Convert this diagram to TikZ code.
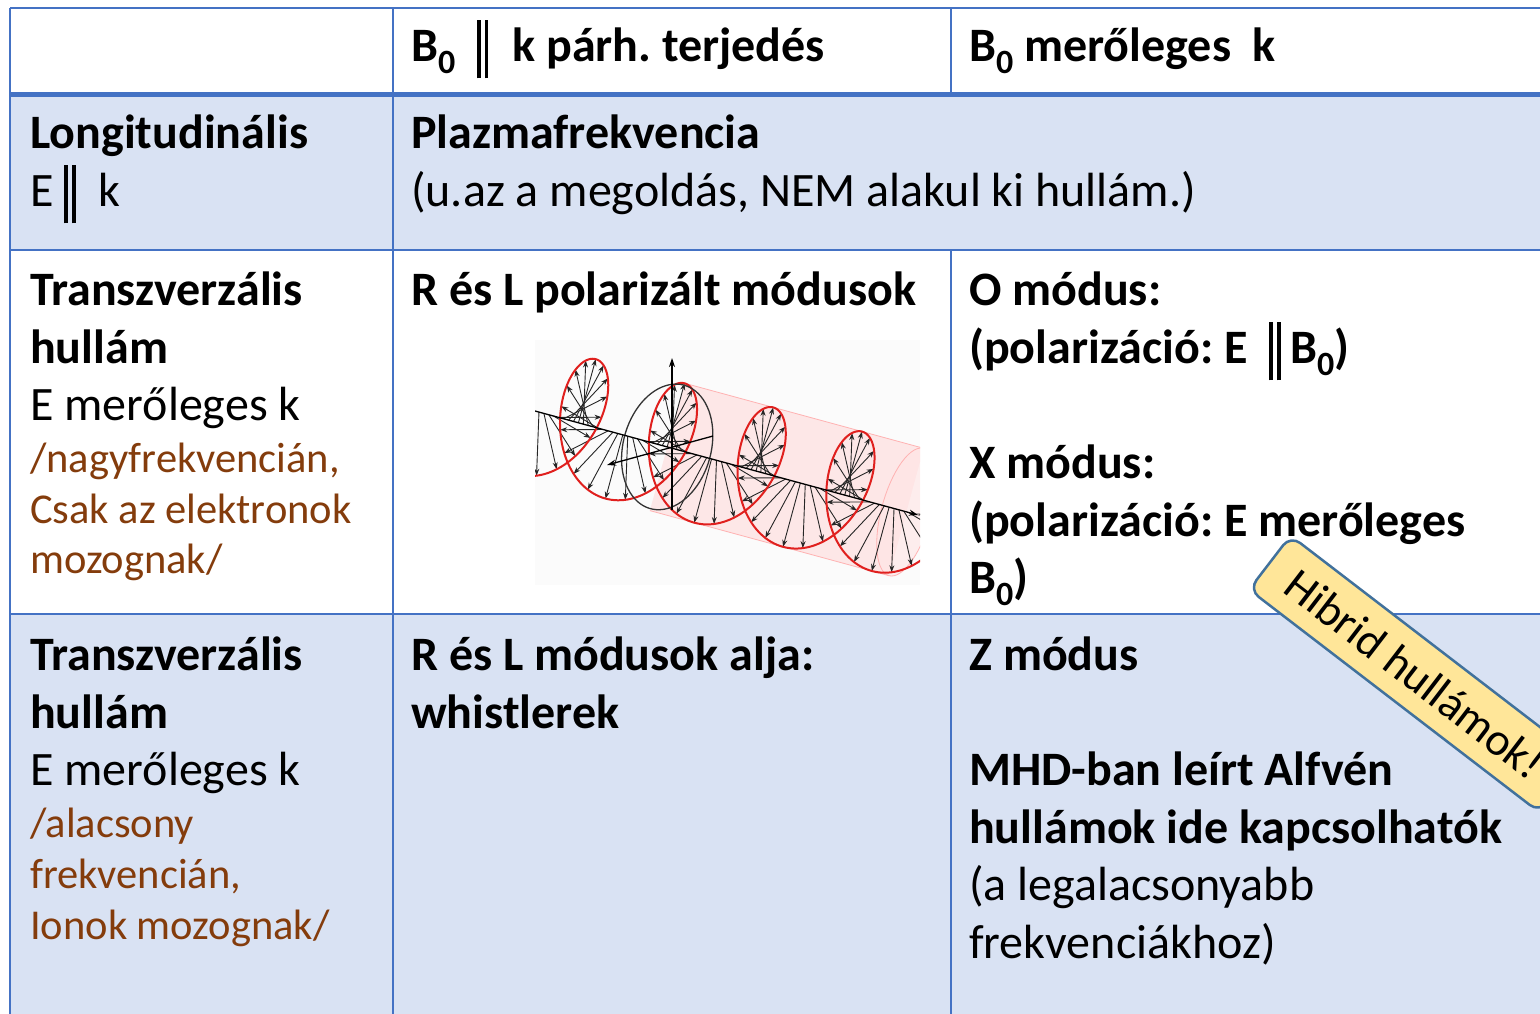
\documentclass[tikz,border=0pt]{standalone}
\usepackage{fontspec}
\usepackage{graphicx}
\setmainfont{Carlito}
\usetikzlibrary{arrows.meta}
\definecolor{tblue}{HTML}{4472C4}
\definecolor{rowfill}{HTML}{D9E2F3}
\definecolor{brownt}{HTML}{843C0C}
\definecolor{hyfill}{HTML}{FFE699}
\definecolor{hyline}{HTML}{41719C}
\definecolor{helixred}{HTML}{E0201E}
\newcommand\pll{\rule[-0.36em]{0.08em}{1.22em}\hspace{0.08em}\rule[-0.36em]{0.08em}{1.22em}}
\newcommand\subz{\raisebox{-0.27em}{\fontsize{34}{34}\selectfont 0}}
\frenchspacing
\begin{document}
\begin{tikzpicture}[x=1pt,y=-1pt,
  txt/.style={anchor=base west, inner sep=0pt, font=\fontsize{48}{58}\selectfont},
  bld/.style={anchor=base west, inner sep=0pt, font=\fontsize{48}{58}\selectfont\bfseries},
  brn/.style={anchor=base west, inner sep=0pt, font=\fontsize{42.5}{51}\selectfont, text=brownt},
  grid/.style={draw=tblue, line width=2.5pt},
  hxarrow/.style={draw=black!85, line width=0.9pt, -{Stealth[length=7pt,width=5pt]}},
  axarrow/.style={draw=black, line width=1.3pt, -{Stealth[length=9pt,width=6pt]}}]
\useasboundingbox (0,0) rectangle (1540,1013);
\clip (0,0) rectangle (1540,1013);
\fill[white] (0,0) rectangle (1540,1013);
% row fills
\fill[rowfill] (10,94) rectangle (1560,250);
\fill[rowfill] (10,614) rectangle (1560,1020);
% grid
\draw[grid] (10,8) -- (1560,8);
\draw[grid] (10,8) -- (10,1020);
\draw[grid] (393,8) -- (393,1020);
\draw[grid] (951,8) -- (951,94);
\draw[grid] (951,250) -- (951,1020);
\draw[grid] (10,250) -- (1560,250);
\draw[grid] (10,614) -- (1560,614);
\draw[draw=tblue, line width=5pt] (10,94) -- (1560,94);

% header
\node[bld] (h1) at (411,61) {B\subz\hspace{0.45em}\pll\hspace{0.5em}k párh. terjedés};
\node[bld] (h2) at (969,61) {B\subz{} merőleges\ \ k};

% row 2
\node[bld] (a1) at (30,148) {Longitudinális};
\node[txt] (a2) at (30,206) {E\hspace{0.22em}\pll\hspace{0.48em}k};
\node[bld] (a3) at (411,148) {Plazmafrekvencia};
\node[txt] (a4) at (411,206) {(u.az a megoldás, NEM alakul ki hullám.)};

% row 3
\node[bld] (b1) at (30,305) {Transzverzális};
\node[bld] (b2) at (30,363) {hullám};
\node[txt] (b3) at (30,420) {E merőleges k};
\node[brn] (b4) at (30,472) {/nagyfrekvencián,};
\node[brn] (b5) at (30,523) {Csak az elektronok};
\node[brn] (b6) at (30,573) {mozognak/};
\node[bld] (b7) at (411,305) {R és L polarizált módusok};
\node[bld] (b8) at (969,305) {O módus:};
\node[bld] (b9) at (969,363) {(polarizáció: E\hspace{0.45em}\pll\hspace{0.2em}B\subz)};
\node[bld] (b10) at (969,478) {X módus:};
\node[bld] (b11) at (969,536) {(polarizáció: E merőleges};
\node[bld] (b12) at (969,593) {B\subz)};

% row 4
\node[bld] (c1) at (30,670) {Transzverzális};
\node[bld] (c2) at (30,728) {hullám};
\node[txt] (c3) at (30,785) {E merőleges k};
\node[brn] (c4) at (30,837) {/alacsony};
\node[brn] (c5) at (30,888) {frekvencián,};
\node[brn] (c6) at (30,939) {Ionok mozognak/};
\node[bld] (c7) at (411,670) {R és L módusok alja:};
\node[bld] (c8) at (411,728) {whistlerek};
\node[bld] (c9) at (969,670) {Z módus};
\node[bld] (c10) at (969,785) {MHD-ban leírt Alfvén};
\node[bld] (c11) at (969,843) {hullámok ide kapcsolhatók};
\node[txt] (c12) at (969,900) {(a legalacsonyabb};
\node[txt] (c13) at (969,958) {frekvenciákhoz)};

% helix picture
\begin{scope}
\clip (535,340) rectangle (920,585);
\fill[black!1.5] (535,340) rectangle (920,585);
% pink cylinder
\fill[red!14, fill opacity=0.6] (684.5,383.2) -- (923.7,448.3) -- (889.1,575.7) -- (649.9,510.6) -- cycle;
\fill[red!10, fill opacity=0.6] plot[domain=0:360, samples=60, variable=\q]
  ({906.4+25*0.9648*cos(\q)+66*0.2624*sin(\q)},{512+25*0.2624*cos(\q)-66*0.9648*sin(\q)});
\draw[red!30, line width=0.8pt] (684.5,383.2) -- (923.7,448.3);
\draw[red!30, line width=0.8pt] (649.9,510.6) -- (889.1,575.7);
\draw[red!30, line width=0.8pt] plot[domain=0:360, samples=60, variable=\q]
  ({906.4+25*0.9648*cos(\q)+66*0.2624*sin(\q)},{512+25*0.2624*cos(\q)-66*0.9648*sin(\q)});
% field arrows
\foreach \q in {-200,-180,...,1380}{
  \pgfmathsetmacro\tq{45+\q*0.25556}
  \pgfmathsetmacro\px{535+0.9648*\tq}
  \pgfmathsetmacro\py{411+0.2624*\tq}
  \pgfmathsetmacro\hx{\px+17.32*cos(\q)-40.5*sin(\q)}
  \pgfmathsetmacro\hy{\py-63.68*cos(\q)-11.0*sin(\q)}
  \draw[hxarrow] (\px,\py) -- (\hx,\hy);
}
% helix
\draw[helixred, line width=2pt] plot[domain=-220:1400, samples=500, variable=\q]
  ({535+0.9648*(45+\q*0.25556)+17.32*cos(\q)-40.5*sin(\q)},
   {411+0.2624*(45+\q*0.25556)-63.68*cos(\q)-11.0*sin(\q)});
% black reference circle
\draw[black!80, line width=1.3pt] plot[domain=0:360, samples=80, variable=\q]
  ({667.2+44*0.9648*cos(\q)+64*0.2624*sin(\q)},{446.9+44*0.2624*cos(\q)-64*0.9648*sin(\q)});
% axes
\coordinate (ax0) at (535,411);
\coordinate (ax1) at (918,515);
\coordinate (vz0) at (672,510);
\coordinate (vz1) at (672,358);
\coordinate (hy0) at (713,436);
\coordinate (hy1) at (607,465);
\draw[axarrow] (ax0) -- (ax1);
\draw[axarrow] (vz0) -- (vz1);
\draw[axarrow] (hy0) -- (hy1);
\end{scope}

% hybrid label
\node[draw=hyline, fill=hyfill, line width=2.5pt, rounded corners=12pt,
      minimum width=366pt, minimum height=68pt, inner sep=0pt, rotate=-37.5,
      font=\fontsize{46}{58}\selectfont] (hyb) at (1415,674) {Hibrid hullámok!};
\end{tikzpicture}
\end{document}
